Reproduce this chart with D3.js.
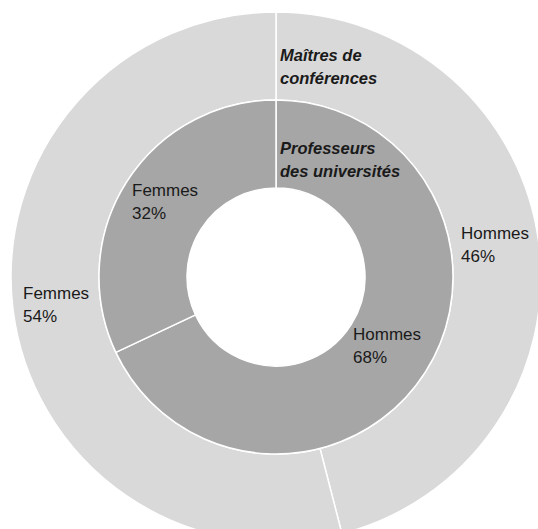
<!DOCTYPE html>
<html>
<head>
<meta charset="utf-8">
<script src="https://cdn.jsdelivr.net/npm/d3@7"></script>
<style>
  html, body { margin: 0; padding: 0; background: #fff; }
  svg { display: block; }
  text { font-family: "Liberation Sans", Arial, Helvetica, sans-serif; fill: #1a1a1a; }
</style>
</head>
<body>
<div id="chart"></div>
<script>
// data
const categories = ['Hommes', 'Femmes'];
const maitres = [46, 54];        // Maîtres de conférences (outer ring)
const professeurs = [68, 32];    // Professeurs des universités (inner ring)
const ringTitles = [['Maîtres de', 'conférences'], ['Professeurs', 'des universités']];

const width = 538, height = 529;
const cx = 276, cy = 277;
const rHole = 89, rMid = 177, rOuter = 265;

const svg = d3.select('#chart').append('svg')
  .attr('width', width)
  .attr('height', height);

const g = svg.append('g').attr('transform', `translate(${cx},${cy})`);

const pie = d3.pie().sort(null).value(d => d);

const rings = [
  { values: maitres, inner: rMid, outer: rOuter, fill: '#d9d9d9' },
  { values: professeurs, inner: rHole, outer: rMid, fill: '#a6a6a6' }
];

rings.forEach(ring => {
  const arc = d3.arc().innerRadius(ring.inner).outerRadius(ring.outer);
  g.append('g')
    .selectAll('path')
    .data(pie(ring.values))
    .join('path')
    .attr('d', arc)
    .attr('fill', ring.fill)
    .attr('stroke', '#fff')
    .attr('stroke-width', 1.5);
});

// ring titles
const titlePos = [[4, -216], [4, -123]];
ringTitles.forEach((lines, i) => {
  const t = g.append('text')
    .attr('x', titlePos[i][0])
    .attr('y', titlePos[i][1])
    .attr('font-size', '16.5px')
    .attr('font-weight', 'bold')
    .attr('font-style', 'italic');
  lines.forEach((l, j) => {
    t.append('tspan').attr('x', titlePos[i][0]).attr('dy', j ? 22.5 : 0).text(l);
  });
});

// slice labels: [outer Hommes, outer Femmes, inner Hommes, inner Femmes]
const labelPos = [[185, -38], [-253, 22], [77, 63], [-144, -81]];
const labels = [
  [categories[0], maitres[0]],
  [categories[1], maitres[1]],
  [categories[0], professeurs[0]],
  [categories[1], professeurs[1]]
];
labels.forEach((d, i) => {
  const t = g.append('text')
    .attr('x', labelPos[i][0])
    .attr('y', labelPos[i][1])
    .attr('font-size', '17px');
  t.append('tspan').attr('x', labelPos[i][0]).text(d[0]);
  t.append('tspan').attr('x', labelPos[i][0]).attr('dy', 22.7).text(d[1] + '%');
});
</script>
</body>
</html>
